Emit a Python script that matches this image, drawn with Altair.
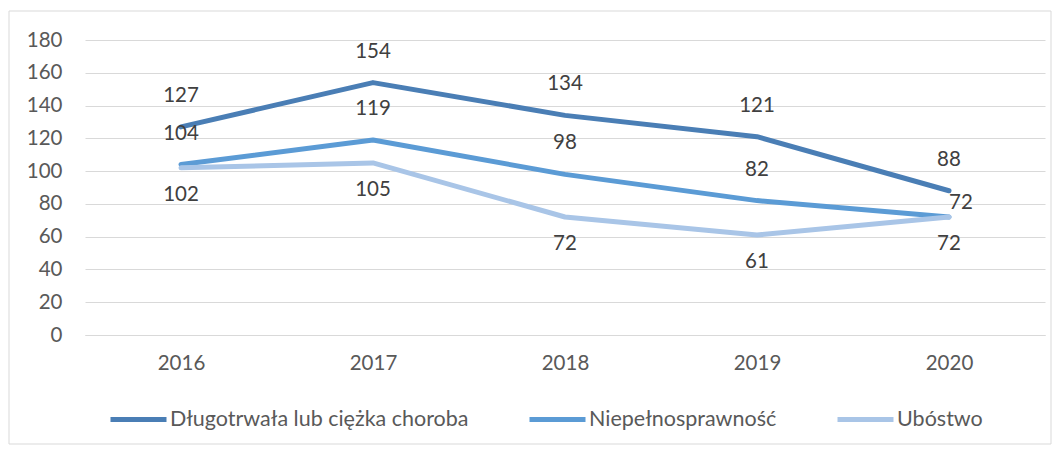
import altair as alt
import pandas as pd

years = ["2016", "2017", "2018", "2019", "2020"]
series_names = ["Długotrwała lub ciężka choroba", "Niepełnosprawność", "Ubóstwo"]
choroba = [127, 154, 134, 121, 88]
niepelno = [104, 119, 98, 82, 72]
ubostwo = [102, 105, 72, 61, 72]
colors = ["#4a7eb5", "#5b9bd5", "#a9c5e7"]

rows = []
for name, vals in zip(series_names, [choroba, niepelno, ubostwo]):
    for y, v in zip(years, vals):
        rows.append({"Rok": y, "Seria": name, "Wartość": v})
df = pd.DataFrame(rows)

FONT = "Lato"
FS = 20.5

x = alt.X("Rok:N", sort=years, title=None,
          scale=alt.Scale(type="point", padding=0.5),
          axis=alt.Axis(labelAngle=0, ticks=False, domain=True, domainColor="#d9d9d9",
                        grid=False, labelPadding=18, labelFont=FONT,
                        labelFontSize=FS, labelColor="#595959"))
y = alt.Y("Wartość:Q", title=None,
          scale=alt.Scale(domain=[0, 180], nice=False),
          axis=alt.Axis(values=list(range(0, 181, 20)), ticks=False, domain=False,
                        grid=True, gridColor="#d9d9d9", gridWidth=1.2,
                        labelPadding=23, labelOverlap=False, labelFont=FONT,
                        labelFontSize=FS, labelColor="#595959"))
color = alt.Color("Seria:N", sort=series_names,
                  scale=alt.Scale(domain=series_names, range=colors),
                  legend=alt.Legend(title=None, orient="none", direction="horizontal",
                                    legendX=23, legendY=349,
                                    symbolType="stroke", symbolStrokeWidth=5,
                                    symbolSize=3136, labelFontSize=21.5,
                                    labelColor="#595959", labelFont=FONT, labelLimit=0,
                                    columnPadding=50, labelOffset=1))

base = alt.Chart(df)

lines = base.mark_line(strokeWidth=5, strokeCap="round", strokeJoin="round").encode(
    x=x, y=y, color=color, detail="Seria:N"
)

txt_kw = dict(fontSize=FS, color="#404040", font=FONT)

lab1 = base.transform_filter(alt.datum.Seria == series_names[0]).mark_text(dy=-31, **txt_kw).encode(
    x=x, y=y, text="Wartość:Q")
lab2 = base.transform_filter(
    (alt.datum.Seria == series_names[1]) & (alt.datum.Rok != "2020")
).mark_text(dy=-31, **txt_kw).encode(x=x, y=y, text="Wartość:Q")
lab2b = base.transform_filter(
    (alt.datum.Seria == series_names[1]) & (alt.datum.Rok == "2020")
).mark_text(dx=12, dy=-14, **txt_kw).encode(x=x, y=y, text="Wartość:Q")
lab3 = base.transform_filter(alt.datum.Seria == series_names[2]).mark_text(dy=27, **txt_kw).encode(
    x=x, y=y, text="Wartość:Q")

frame = alt.Chart(pd.DataFrame({"k": [0]})).mark_rect(
    fill=None, stroke="#d9d9d9", strokeWidth=1
).encode(x=alt.value(-76), x2=alt.value(966), y=alt.value(-29), y2=alt.value(404))

chart = alt.layer(lines, lab1, lab2, lab2b, lab3, frame).properties(
    width=960, height=295,
    autosize=alt.AutoSizeParams(type="none"),
    padding={"left": 77, "top": 32, "right": 7, "bottom": 110},
).configure(
    background="white"
).configure_view(
    stroke=None
).configure_axis(
    labelFont=FONT, labelFontSize=FS, labelColor="#595959", labelOverlap=False
)

chart.save("out.html", embed_options={"renderer": "svg", "actions": False})
